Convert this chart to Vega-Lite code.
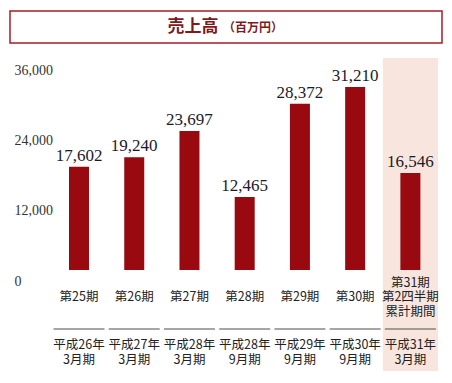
{
  "$schema": "https://vega.github.io/schema/vega-lite/v6.json",
  "padding": {"left": 9, "top": 10, "right": 0, "bottom": 0},
  "autosize": {"type": "pad"},
  "background": "white",
  "spacing": 16,
  "center": true,
  "bounds": "flush",
  "config": {"view": {"stroke": null}},
  "vconcat": [
    {
      "width": 432,
      "height": 32,
      "view": {"stroke": "#a81c26", "strokeWidth": 1.5},
      "data": {"values": [{"t": "売上高", "k": "main"}, {"t": "（百万円）", "k": "unit"}]},
      "layer": [
        {
          "transform": [{"filter": "datum.k === 'main'"}],
          "mark": {"type": "text", "font": "Noto Sans CJK JP", "fontSize": 17, "fontWeight": "bold", "color": "#7d1a1e", "dx": -33, "baseline": "middle"},
          "encoding": {"text": {"field": "t"}}
        },
        {
          "transform": [{"filter": "datum.k === 'unit'"}],
          "mark": {"type": "text", "font": "Noto Sans CJK JP", "fontSize": 12, "fontWeight": "bold", "color": "#7d1a1e", "dx": 27, "dy": 1, "baseline": "middle"},
          "encoding": {"text": {"field": "t"}}
        }
      ]
    },
    {
      "width": 424,
      "height": 211,
      "data": {
        "values": [
          {"key": "第25期", "sales": 17602, "top": "\n第25期", "bottom": "平成26年\n3月期"},
          {"key": "第26期", "sales": 19240, "top": "\n第26期", "bottom": "平成27年\n3月期"},
          {"key": "第27期", "sales": 23697, "top": "\n第27期", "bottom": "平成28年\n3月期"},
          {"key": "第28期", "sales": 12465, "top": "\n第28期", "bottom": "平成28年\n9月期"},
          {"key": "第29期", "sales": 28372, "top": "\n第29期", "bottom": "平成29年\n9月期"},
          {"key": "第30期", "sales": 31210, "top": "\n第30期", "bottom": "平成30年\n9月期"},
          {"key": "第31期", "sales": 16546, "top": "第31期\n第2四半期\n累計期間", "bottom": "平成31年\n3月期"}
        ]
      },
      "encoding": {
        "x": {
          "field": "key",
          "type": "nominal",
          "axis": null,
          "scale": {
            "domain": ["第25期", "第26期", "第27期", "第28期", "第29期", "第30期", "第31期"],
            "paddingInner": 0,
            "paddingOuter": 0.3385,
            "align": 1
          }
        }
      },
      "layer": [
        {
          "transform": [{"filter": "datum.key === '第31期'"}],
          "mark": {"type": "rect", "color": "#f3d6c8", "opacity": 0.6},
          "encoding": {
            "y": {
              "datum": 36170,
              "type": "quantitative",
              "scale": {"domain": [0, 36000], "nice": false},
              "axis": {
                "title": null,
                "values": [0, 12000, 24000, 36000],
                "labelExpr": "format(datum.value, ',')",
                "domain": false,
                "ticks": false,
                "tickSize": 0,
                "labelPadding": 0,
                "labelAlign": "left",
                "labelBaseline": "top",
                "labelOffset": 4,
                "labelFont": "Liberation Serif",
                "labelFontSize": 14,
                "labelColor": "#333333",
                "gridColor": {"condition": {"test": "datum.value === 12000", "value": "#f2c9a0"}, "value": "#efd8cb"},
                "gridWidth": 1.2
              }
            },
            "y2": {"datum": -17230}
          }
        },
        {
          "mark": {"type": "bar", "width": 20, "color": "#990a10"},
          "encoding": {
            "y": {"field": "sales", "type": "quantitative", "scale": {"domain": [0, 36000], "nice": false}}
          }
        },
        {
          "mark": {"type": "text", "font": "Liberation Serif", "fontSize": 17, "color": "#1a1a2a", "baseline": "alphabetic", "dy": -6},
          "encoding": {
            "y": {"field": "sales", "type": "quantitative", "scale": {"domain": [0, 36000], "nice": false}},
            "text": {"field": "sales", "type": "quantitative", "format": ","}
          }
        },
        {
          "mark": {"type": "text", "font": "Noto Sans CJK JP", "fontSize": 12.5, "color": "#222222", "baseline": "middle", "lineBreak": "\n", "lineHeight": 14.5},
          "encoding": {
            "y": {"datum": -2218, "type": "quantitative", "scale": {"domain": [0, 36000], "nice": false}},
            "text": {"field": "top"}
          }
        },
        {
          "mark": {"type": "tick", "size": 51, "thickness": 1.3, "color": "#555555"},
          "encoding": {
            "y": {"datum": -10067, "type": "quantitative", "scale": {"domain": [0, 36000], "nice": false}}
          }
        },
        {
          "mark": {"type": "text", "font": "Noto Sans CJK JP", "fontSize": 12.5, "color": "#222222", "baseline": "middle", "lineBreak": "\n", "lineHeight": 15},
          "encoding": {
            "y": {"datum": -12796, "type": "quantitative", "scale": {"domain": [0, 36000], "nice": false}},
            "text": {"field": "bottom"}
          }
        }
      ]
    }
  ]
}
